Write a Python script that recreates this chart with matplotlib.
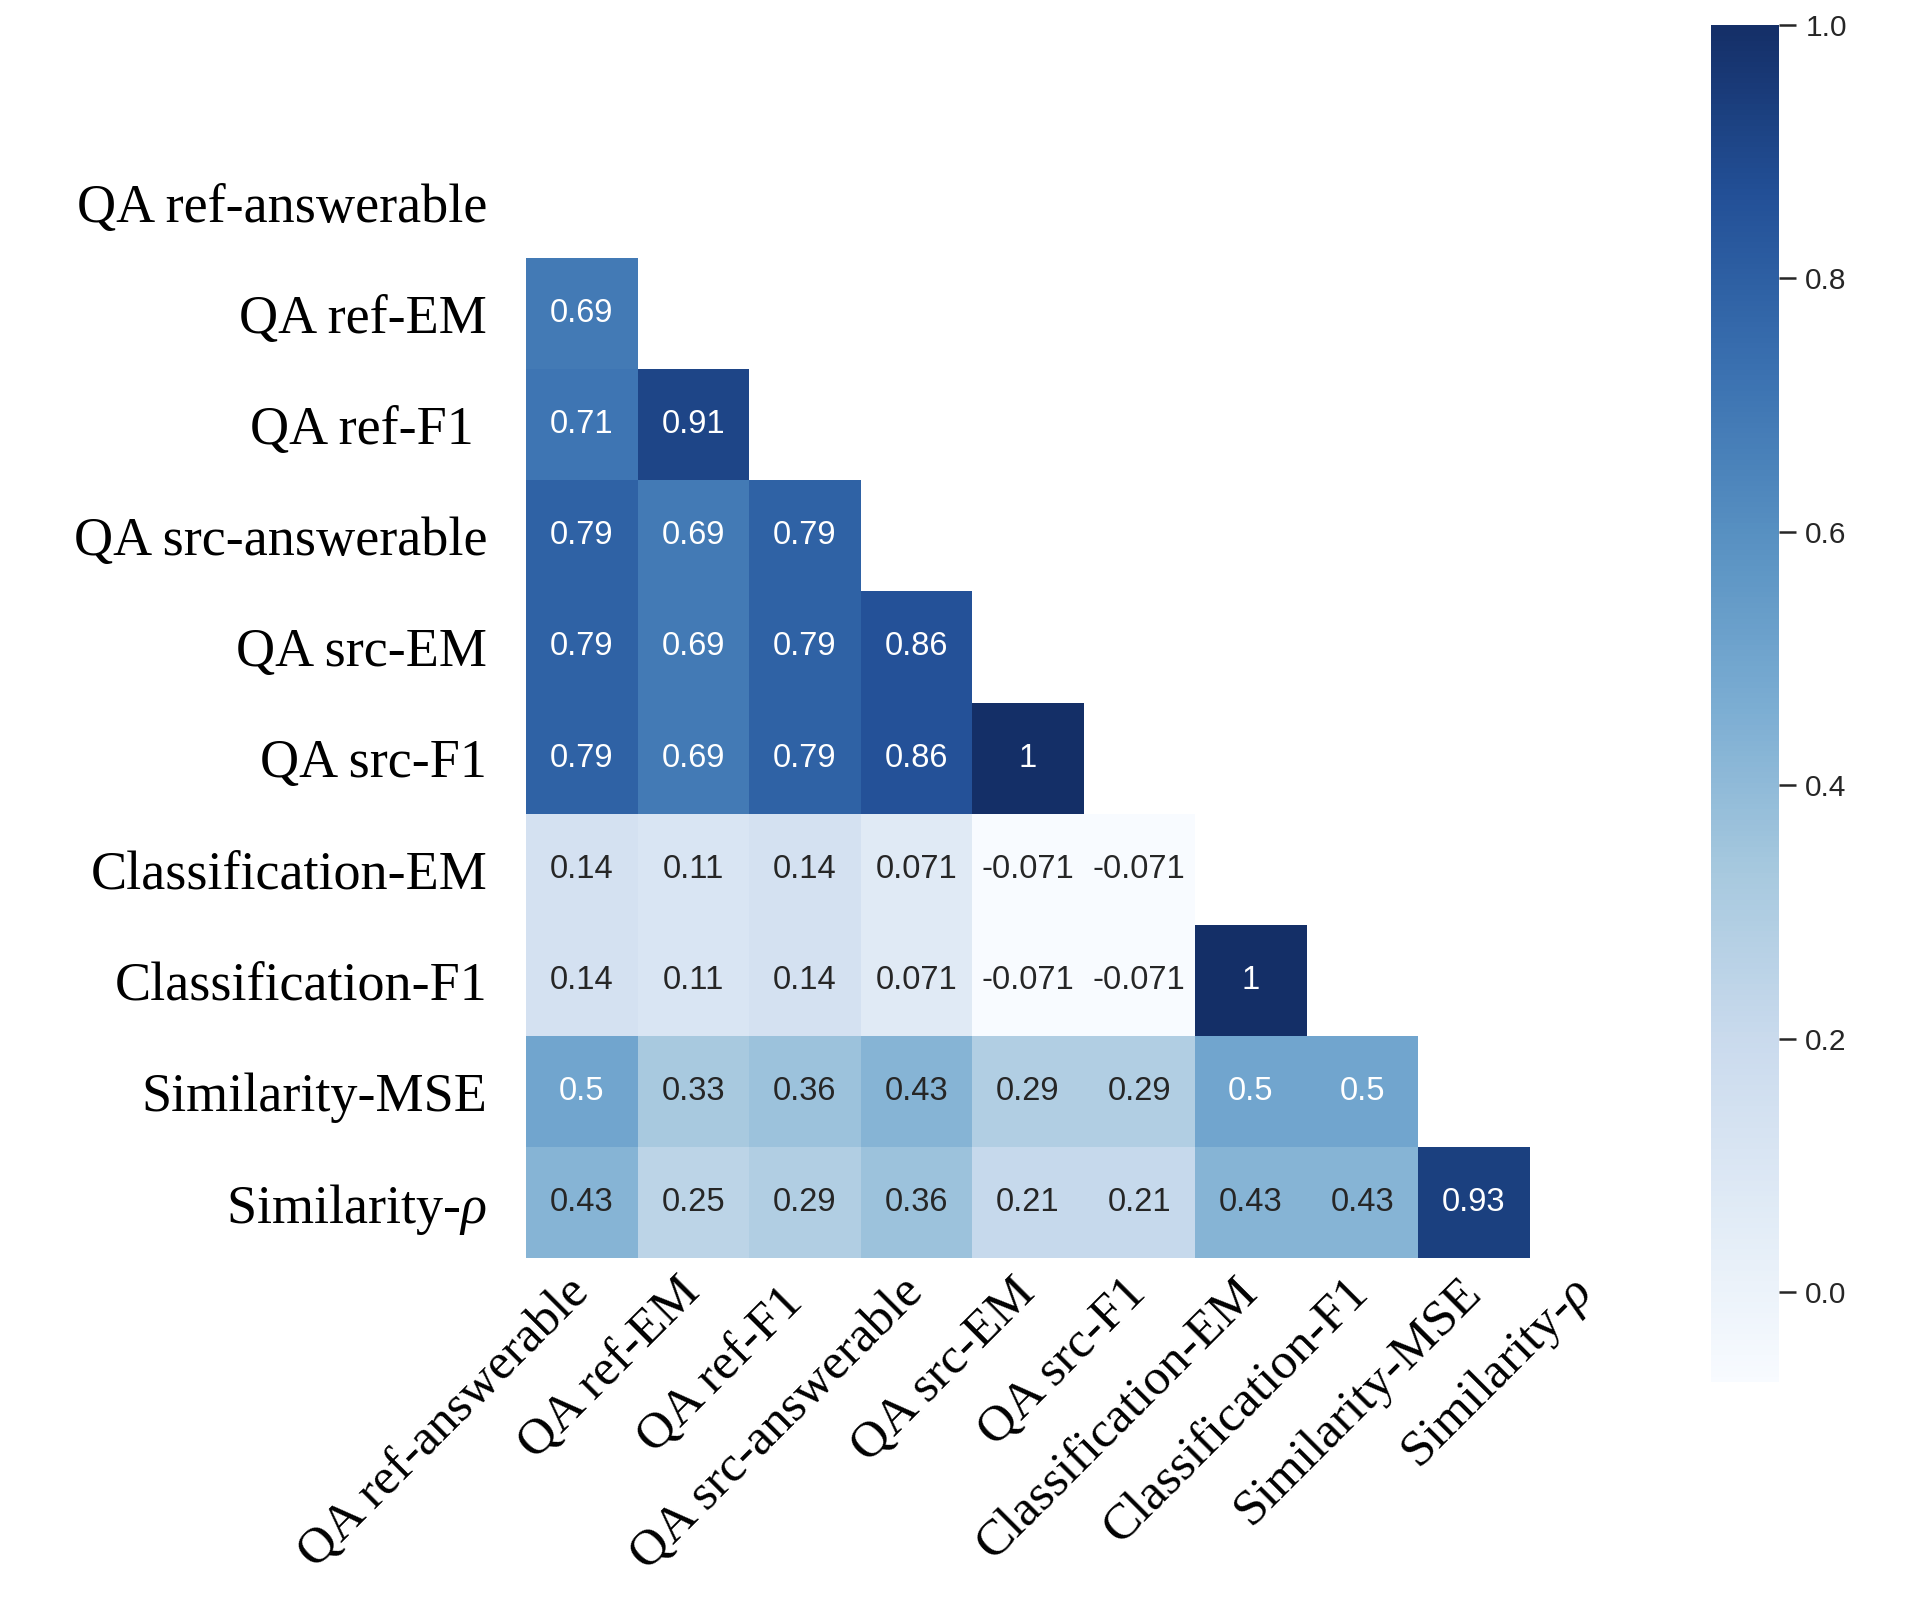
import numpy as np
import matplotlib
matplotlib.use("Agg")
import matplotlib.pyplot as plt
from matplotlib.colors import ListedColormap, Normalize

plt.rcParams['mathtext.fontset'] = 'custom'
plt.rcParams['mathtext.rm'] = 'Liberation Serif'
plt.rcParams['mathtext.it'] = 'Liberation Serif:italic'

metrics = ["QA ref-answerable", "QA ref-EM", "QA ref-F1 ", "QA src-answerable",
           "QA src-EM", "QA src-F1", "Classification-EM", "Classification-F1",
           "Similarity-MSE", "Similarity-$\\rho$"]

# lower triangle of the correlation matrix, row by row (diagonal = 1)
row_ref_em = [0.69]
row_ref_f1 = [0.71, 0.91]
row_src_ans = [0.79, 0.69, 0.79]
row_src_em = [0.79, 0.69, 0.79, 0.86]
row_src_f1 = [0.79, 0.69, 0.79, 0.86, 1.0]
row_cls_em = [0.14, 0.11, 0.14, 0.071, -0.071, -0.071]
row_cls_f1 = [0.14, 0.11, 0.14, 0.071, -0.071, -0.071, 1.0]
row_sim_mse = [0.5, 0.33, 0.36, 0.43, 0.29, 0.29, 0.5, 0.5]
row_sim_rho = [0.43, 0.25, 0.29, 0.36, 0.21, 0.21, 0.43, 0.43, 0.93]
lower_rows = [[], row_ref_em, row_ref_f1, row_src_ans, row_src_em, row_src_f1,
              row_cls_em, row_cls_f1, row_sim_mse, row_sim_rho]

n = len(metrics)
corr = np.eye(n)
for i, row in enumerate(lower_rows):
    for j, v in enumerate(row):
        corr[i, j] = v
        corr[j, i] = v
mask = np.triu(np.ones_like(corr, dtype=bool))
data = np.ma.masked_array(corr, mask)


# the reference colours look like Blues re-encoded for a P3 display
def srgb_to_p3(rgb):
    lin = np.where(rgb <= 0.04045, rgb / 12.92, ((rgb + 0.055) / 1.055) ** 2.4)
    M = np.array([[0.8225, 0.1774, 0.0000],
                  [0.0332, 0.9669, 0.0000],
                  [0.0171, 0.0724, 0.9108]])
    p = np.clip(lin @ M.T, 0, 1)
    return np.where(p <= 0.0031308, p * 12.92, 1.055 * p ** (1 / 2.4) - 0.055)


blues = plt.get_cmap("Blues")(np.linspace(0, 1, 256))[:, :3]
cmap = ListedColormap(srgb_to_p3(blues))
vmin, vmax = data.min(), data.max()
norm = Normalize(vmin=vmin, vmax=vmax)

fig = plt.figure(figsize=(19.1, 16.12), dpi=100)
ax = fig.add_axes([0.2754, 0.2196, 0.5838, 0.6892])
cax = fig.add_axes([0.8958, 0.1427, 0.0356, 0.8418])

mesh = ax.pcolormesh(np.arange(n + 1), np.arange(n + 1), data, cmap=cmap, norm=norm)
ax.set_xlim(0, n)
ax.set_ylim(n, 0)
for s in ax.spines.values():
    s.set_visible(False)


def lum(c):
    c = np.asarray(c[:3])
    c = np.where(c <= 0.03928, c / 12.92, ((c + 0.055) / 1.055) ** 2.4)
    return c.dot([0.2126, 0.7152, 0.0722])


for i in range(n):
    for j in range(n):
        if mask[i, j]:
            continue
        v = corr[i, j]
        col = ".15" if lum(cmap(norm(v))) > .408 else "w"
        ax.text(j + 0.5, i + 0.5, f"{v:.2g}", ha="center", va="center",
                color=col, fontsize=23.5, family="Liberation Sans")

ax.set_xticks(np.arange(n) + 0.5)
ax.set_yticks(np.arange(n) + 0.5)
ax.set_xticklabels(metrics, rotation=45, ha="right", va="center", rotation_mode="anchor",
                   family="Liberation Serif", fontsize=37)
ax.set_yticklabels(metrics, rotation=0, family="Liberation Serif", fontsize=39)
ax.tick_params(axis="both", length=0)
ax.tick_params(axis="y", pad=28)
ax.tick_params(axis="x", pad=20)

cb = fig.colorbar(mesh, cax=cax)
cb.outline.set_visible(False)
cb.set_ticks([0.0, 0.2, 0.4, 0.6, 0.8, 1.0])
cb.ax.tick_params(length=12, width=1.8, color="#262626", labelcolor="#262626",
                  labelsize=21.5, pad=7)
for t in cb.ax.get_yticklabels():
    t.set_family("Liberation Sans")

fig.savefig("out.png", dpi=100)
